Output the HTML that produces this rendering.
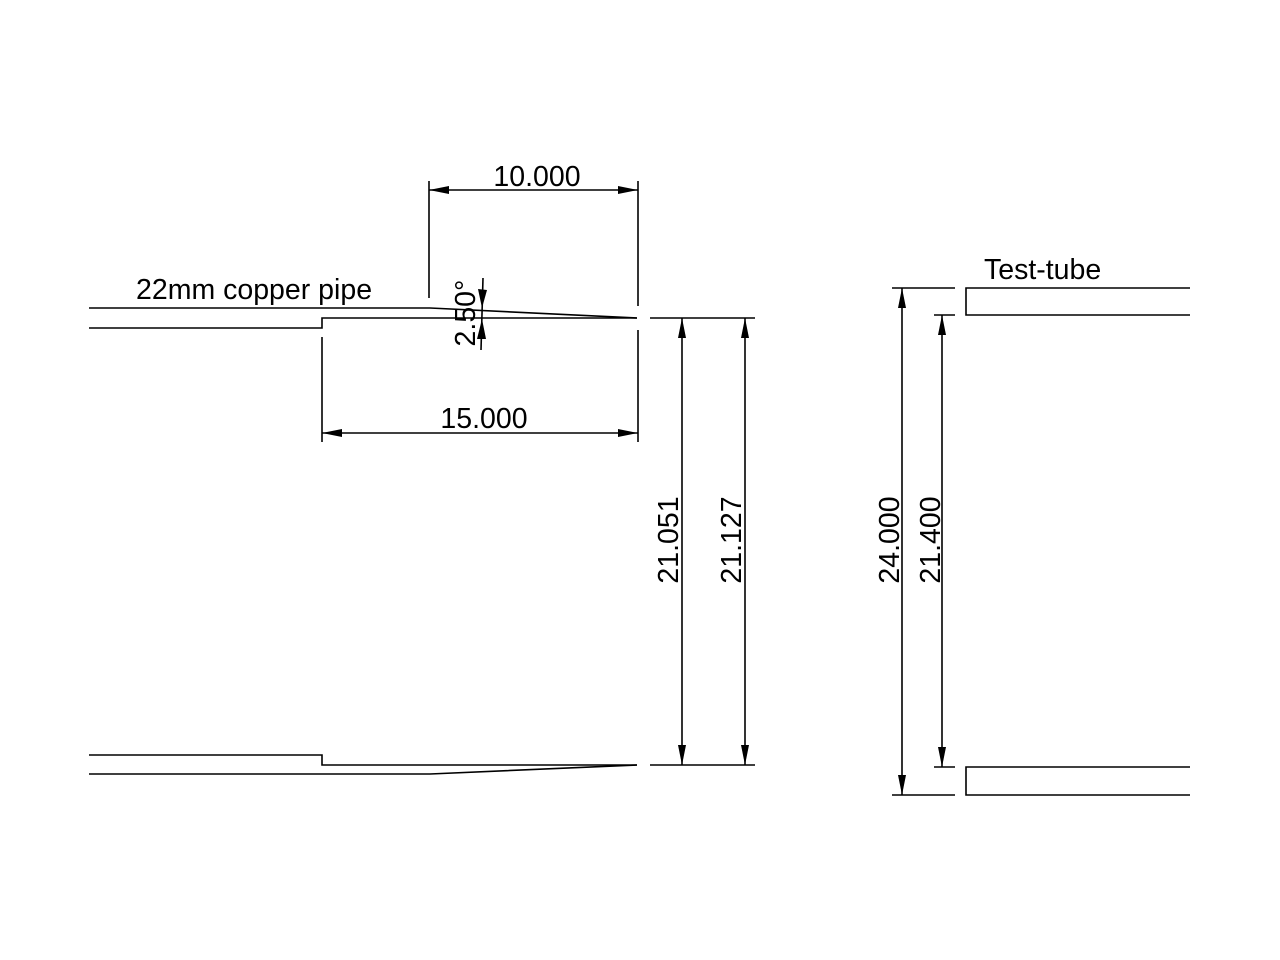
<!DOCTYPE html>
<html><head><meta charset="utf-8"><style>
html,body{margin:0;padding:0;background:#fff;}
svg{display:block;}
text{font-family:"Liberation Sans",Arial,sans-serif;font-size:28.5px;fill:#000;}
</style></head><body>
<svg width="1280" height="960" viewBox="0 0 1280 960" xmlns="http://www.w3.org/2000/svg">
<g stroke="#000" stroke-width="1.6" fill="none">
<polyline points="89,308 430,308 637,318"/>
<polyline points="89,328 322,328 322,318 637,318"/>
<line x1="650" y1="318" x2="755" y2="318"/>
<polyline points="89,755 322,755 322,765 637,765"/>
<polyline points="89,774 430,774 637,765"/>
<line x1="650" y1="765" x2="755" y2="765"/>
<line x1="429" y1="181" x2="429" y2="298"/>
<line x1="638" y1="181" x2="638" y2="306"/>
<line x1="429" y1="190" x2="638" y2="190"/>
<line x1="322" y1="337" x2="322" y2="442"/>
<line x1="638" y1="330" x2="638" y2="442"/>
<line x1="322" y1="433" x2="638" y2="433"/>
<line x1="682" y1="318" x2="682" y2="765"/>
<line x1="745" y1="318" x2="745" y2="765"/>
<line x1="483" y1="278" x2="481" y2="350"/>
<polyline points="1190,288 966,288 966,315 1190,315"/>
<polyline points="1190,767 966,767 966,795 1190,795"/>
<line x1="892" y1="288" x2="955" y2="288"/>
<line x1="892" y1="795" x2="955" y2="795"/>
<line x1="934" y1="315" x2="955" y2="315"/>
<line x1="934" y1="767" x2="955" y2="767"/>
<line x1="902" y1="288" x2="902" y2="795"/>
<line x1="942" y1="315" x2="942" y2="767"/>
</g>
<g fill="#000">
<polygon points="429,190 449,186 449,194"/>
<polygon points="638,190 618,186 618,194"/>
<polygon points="322,433 342,429 342,437"/>
<polygon points="638,433 618,429 618,437"/>
<polygon points="682,318 678,338 686,338"/>
<polygon points="682,765 678,745 686,745"/>
<polygon points="745,318 741,338 749,338"/>
<polygon points="745,765 741,745 749,745"/>
<polygon points="482,308 478,289 487,290"/>
<polygon points="482,319 477,339 486,339"/>
<polygon points="902,288 898,308 906,308"/>
<polygon points="902,795 898,775 906,775"/>
<polygon points="942,315 938,335 946,335"/>
<polygon points="942,767 938,747 946,747"/>
</g>
<text x="537" y="186" text-anchor="middle">10.000</text>
<text x="484" y="428" text-anchor="middle">15.000</text>
<text x="136" y="299">22mm copper pipe</text>
<text x="984" y="279">Test-tube</text>
<text transform="translate(678,540) rotate(-90)" text-anchor="middle">21.051</text>
<text transform="translate(741,540) rotate(-90)" text-anchor="middle">21.127</text>
<text transform="translate(899,540) rotate(-90)" text-anchor="middle">24.000</text>
<text transform="translate(940,540) rotate(-90)" text-anchor="middle">21.400</text>
<text transform="translate(475,313) rotate(-90)" text-anchor="middle">2.50°</text>
</svg>
</body></html>
